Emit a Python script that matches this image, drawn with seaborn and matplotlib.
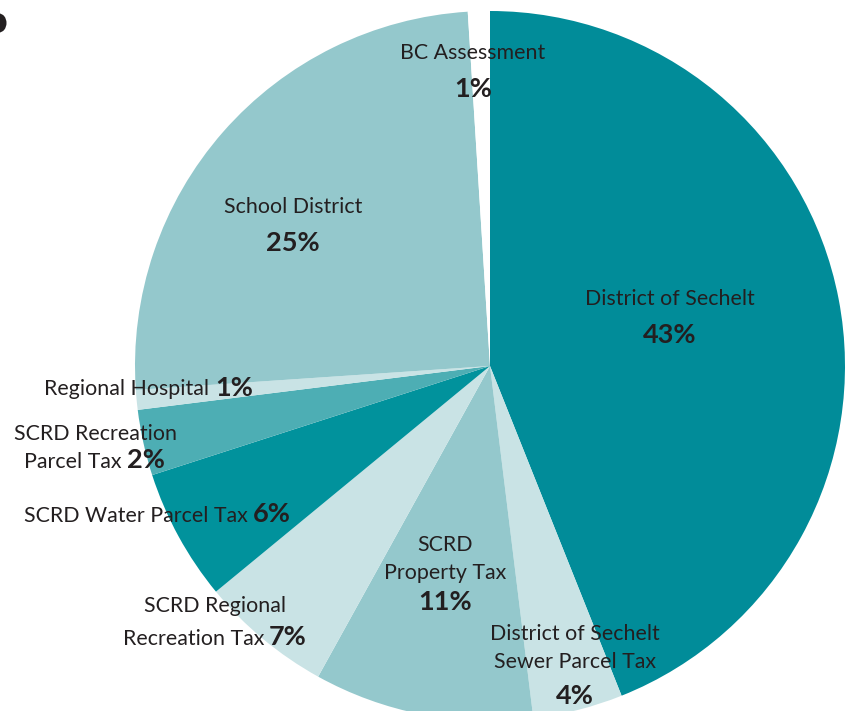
import matplotlib
matplotlib.use("Agg")
import matplotlib.pyplot as plt
from matplotlib.patches import Ellipse
import seaborn as sns

# ---- data (slice shares; printed labels as shown) ----
categories = [
    "District of Sechelt",
    "District of Sechelt Sewer Parcel Tax",
    "SCRD Property Tax",
    "SCRD Regional Recreation Tax",
    "SCRD Water Parcel Tax",
    "SCRD Recreation Parcel Tax",
    "Regional Hospital",
    "School District",
    "BC Assessment",
]
shares = [44.0, 4.1, 10.0, 6.0, 6.0, 3.0, 0.9, 25.1, 1.0]
pct_labels = ["43%", "4%", "11%", "7%", "6%", "2%", "1%", "25%", "1%"]
colors = ["#018C99", "#C9E3E5", "#94C8CC", "#C9E3E5", "#01929C",
          "#4DAEB4", "#C9E3E5", "#94C8CC", "#FFFFFF"]

sns.set_theme(style="white")
plt.rcParams["font.family"] = ["Lato", "DejaVu Sans"]

W, H = 850, 711
fig = plt.figure(figsize=(W / 100, H / 100), dpi=100)
fig.patch.set_facecolor("white")

cx, cy, R = 490, 366, 355
ax = fig.add_axes([(cx - R) / W, (H - cy - R) / H, 2 * R / W, 2 * R / H])
ax.pie(shares, colors=colors, startangle=90, counterclock=False, radius=1,
       wedgeprops=dict(linewidth=0))
ax.set_xlim(-1, 1)
ax.set_ylim(-1, 1)
ax.set_aspect("equal", adjustable="box")
ax.axis("off")

TC = "#231F20"
NFS = 15.4
BFS = 19.5
DY = 2


def px(x, y):
    return x / W, 1 - y / H


def t(x, y, s, bold=False, ha="center", size=None):
    fx, fy = px(x, y + DY)
    fig.text(fx, fy, s, ha=ha, va="center", color=TC,
             fontsize=size if size else (BFS if bold else NFS),
             fontweight="bold" if bold else "normal")


# stacked labels
t(473, 51, categories[8])
t(473, 87, pct_labels[8], bold=True)

t(293, 205, categories[7])
t(293, 241, pct_labels[7], bold=True)

t(670, 297, categories[0])
t(670, 333, pct_labels[0], bold=True)

t(445, 543, "SCRD")
t(445, 571, "Property Tax")
t(445, 600, pct_labels[2], bold=True)

t(575, 632, "District of Sechelt")
t(575, 660, "Sewer Parcel Tax")
t(575, 694, pct_labels[1], bold=True)

# inline labels (normal text + bold percent)
t(209, 387, "Regional Hospital", ha="right")
t(215, 386, pct_labels[6], bold=True, ha="left")

t(95, 432, "SCRD Recreation")
t(122, 460, "Parcel Tax", ha="right")
t(127, 458, pct_labels[5], bold=True, ha="left")

t(248, 514, "SCRD Water Parcel Tax", ha="right")
t(253, 512, pct_labels[4], bold=True, ha="left")

t(215, 604, "SCRD Regional")
t(264, 637, "Recreation Tax", ha="right")
t(269, 635, pct_labels[3], bold=True, ha="left")

# cropped dark mark at the top-left edge (part of a panel letter)
fx, fy = px(-1, 23)
fig.patches.append(Ellipse((fx, fy), 15 / W, 19 / H, transform=fig.transFigure,
                           facecolor=TC, edgecolor="none"))

fig.savefig("out.png", dpi=100, facecolor="white")
